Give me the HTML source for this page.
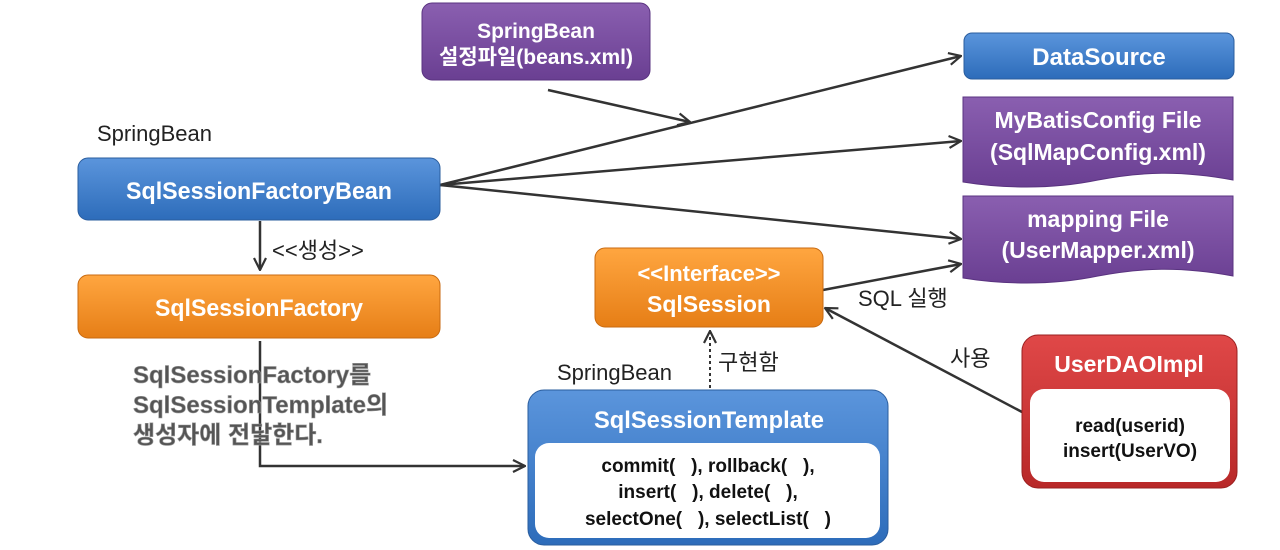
<!DOCTYPE html>
<html><head><meta charset="utf-8"><style>
html,body{margin:0;padding:0;background:#fff;width:1280px;height:550px;overflow:hidden}
text{font-family:"Liberation Sans","Noto Sans CJK KR","NanumGothic",sans-serif}
.w{fill:#fff;font-weight:bold}
.k{fill:#222}
</style></head><body>
<svg width="1280" height="550" viewBox="0 0 1280 550" xmlns="http://www.w3.org/2000/svg">
<defs>
<linearGradient id="bl" x1="0" y1="0" x2="0" y2="1"><stop offset="0" stop-color="#5b95dc"/><stop offset="1" stop-color="#2d6cba"/></linearGradient>
<linearGradient id="or" x1="0" y1="0" x2="0" y2="1"><stop offset="0" stop-color="#ffa640"/><stop offset="1" stop-color="#e67e16"/></linearGradient>
<linearGradient id="pu" x1="0" y1="0" x2="0" y2="1"><stop offset="0" stop-color="#8a5fb0"/><stop offset="1" stop-color="#6a3f92"/></linearGradient>
<linearGradient id="rd" x1="0" y1="0" x2="0" y2="1"><stop offset="0" stop-color="#e04848"/><stop offset="1" stop-color="#b82828"/></linearGradient>
<marker id="ar" viewBox="0 0 14 14" refX="13" refY="7" markerWidth="14" markerHeight="14" markerUnits="userSpaceOnUse" orient="auto"><path d="M1,1 L13,7 L1,13" fill="none" stroke="#333" stroke-width="2.2"/></marker>
</defs>

<g stroke="#333" stroke-width="2.5" fill="none">
<line x1="440" y1="185" x2="961" y2="56" marker-end="url(#ar)"/>
<line x1="440" y1="185" x2="961" y2="141" marker-end="url(#ar)"/>
<line x1="440" y1="185" x2="961" y2="239" marker-end="url(#ar)"/>
<line x1="548" y1="90" x2="690" y2="122" marker-end="url(#ar)"/>
<line x1="260" y1="221" x2="260" y2="270" marker-end="url(#ar)"/>
<polyline points="260,341 260,466 525,466" marker-end="url(#ar)"/>
<line x1="823" y1="290" x2="961" y2="264" marker-end="url(#ar)"/>
<line x1="1022" y1="412" x2="825" y2="308" marker-end="url(#ar)"/>
<line x1="710" y1="388" x2="710" y2="331" stroke-dasharray="3,3" stroke-width="2" marker-end="url(#ar)"/>
</g>

<rect x="422" y="3" width="228" height="77" rx="10" fill="url(#pu)" stroke="#5a3380"/>
<text class="w" x="536" y="38" font-size="21" text-anchor="middle">SpringBean</text>
<text class="w" x="536" y="64" font-size="21" text-anchor="middle">설정파일(beans.xml)</text>

<rect x="964" y="33" width="270" height="46" rx="8" fill="url(#bl)" stroke="#2a5d9e"/>
<text class="w" x="1099" y="65" font-size="24" text-anchor="middle">DataSource</text>

<path d="M963,97 L1233,97 L1233,180 C1180,170 1140,172 1098,180 C1050,190 1000,188 963,182 Z" fill="url(#pu)" stroke="#5a3380"/>
<text class="w" x="1098" y="128" font-size="23" text-anchor="middle">MyBatisConfig File</text>
<text class="w" x="1098" y="160" font-size="23" text-anchor="middle">(SqlMapConfig.xml)</text>

<path d="M963,196 L1233,196 L1233,276 C1180,266 1140,268 1098,276 C1050,286 1000,284 963,278 Z" fill="url(#pu)" stroke="#5a3380"/>
<text class="w" x="1098" y="227" font-size="23" text-anchor="middle">mapping File</text>
<text class="w" x="1098" y="258" font-size="23" text-anchor="middle">(UserMapper.xml)</text>

<text class="k" x="97" y="141" font-size="22">SpringBean</text>
<rect x="78" y="158" width="362" height="62" rx="10" fill="url(#bl)" stroke="#2a5d9e"/>
<text class="w" x="259" y="199" font-size="24" text-anchor="middle" textLength="266" lengthAdjust="spacingAndGlyphs">SqlSessionFactoryBean</text>
<text class="k" x="272" y="258" font-size="22">&lt;&lt;생성&gt;&gt;</text>

<rect x="78" y="275" width="362" height="63" rx="10" fill="url(#or)" stroke="#c86a10"/>
<text class="w" x="259" y="316" font-size="24" text-anchor="middle" textLength="208" lengthAdjust="spacingAndGlyphs">SqlSessionFactory</text>

<g font-size="24" fill="#555" stroke="#999" stroke-width="0.6" font-weight="bold">
<text x="133" y="383">SqlSessionFactory를</text>
<text x="133" y="413">SqlSessionTemplate의</text>
<text x="133" y="443">생성자에 전달한다.</text>
</g>

<rect x="595" y="248" width="228" height="79" rx="10" fill="url(#or)" stroke="#c86a10"/>
<text class="w" x="709" y="281" font-size="22" text-anchor="middle">&lt;&lt;Interface&gt;&gt;</text>
<text class="w" x="709" y="312" font-size="23" text-anchor="middle">SqlSession</text>
<text class="k" x="858" y="306" font-size="22">SQL 실행</text>
<text class="k" x="950" y="366" font-size="22">사용</text>
<text class="k" x="718" y="370" font-size="22">구현함</text>
<text class="k" x="557" y="380" font-size="22">SpringBean</text>

<rect x="528" y="390" width="360" height="155" rx="16" fill="url(#bl)" stroke="#2a5d9e"/>
<text class="w" x="709" y="428" font-size="24" text-anchor="middle" textLength="230" lengthAdjust="spacingAndGlyphs">SqlSessionTemplate</text>
<rect x="535" y="443" width="345" height="95" rx="14" fill="#fff"/>
<g font-size="19" fill="#111" font-weight="bold" text-anchor="middle">
<text x="708" y="472">commit(&#160;&#160;&#160;), rollback(&#160;&#160;&#160;),</text>
<text x="708" y="498">insert(&#160;&#160;&#160;), delete(&#160;&#160;&#160;),</text>
<text x="708" y="525">selectOne(&#160;&#160;&#160;), selectList(&#160;&#160;&#160;)</text>
</g>

<rect x="1022" y="335" width="215" height="153" rx="16" fill="url(#rd)" stroke="#9a2020"/>
<text class="w" x="1129" y="372" font-size="23" text-anchor="middle">UserDAOImpl</text>
<rect x="1030" y="389" width="200" height="93" rx="14" fill="#fff"/>
<g font-size="19" fill="#111" font-weight="bold" text-anchor="middle">
<text x="1130" y="432">read(userid)</text>
<text x="1130" y="457">insert(UserVO)</text>
</g>
</svg>
</body></html>
